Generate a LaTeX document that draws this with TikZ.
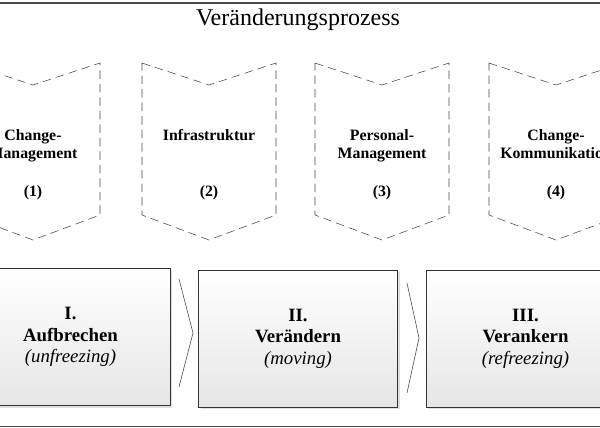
\documentclass[tikz,border=0pt]{standalone}
\usepackage{fontspec}
\setmainfont{Liberation Serif}
\usetikzlibrary{shadows}
\begin{document}
\begin{tikzpicture}[x=1pt,y=-1pt,
    phase/.style={draw=black!80, line width=0.6pt, top color=white, bottom color=black!10,
        minimum width=199pt, minimum height=137pt, align=center,
        font=\fontsize{18.8}{21.5}\selectfont,
        drop shadow={opacity=0.25, shadow xshift=2pt, shadow yshift=-2pt}},
    field/.style={draw=black!72, dash pattern=on 8.5pt off 5pt, line width=0.55pt},
    fieldtext/.style={align=center, anchor=north, font=\bfseries\fontsize{15.8}{18.5}\selectfont},
    fieldnum/.style={font=\bfseries\fontsize{15.8}{18}\selectfont},
    step line/.style={draw=black!70, line width=0.6pt},
    rule/.style={draw=black!70, line width=1.1pt}]
            \useasboundingbox (0,0) rectangle (600,428);
            \draw[rule] (0,3) -- (600,3);
            \draw[rule] (0,426.5) -- (600,426.5);
            \node[font=\fontsize{24}{28}\selectfont] at (298,20) (t1) {Veränderungsprozess};

            \draw[field] (-34,63) -- (33,85) -- (100,63) -- (100,215) -- (33,240) -- (-34,215) -- cycle;
            \draw[field] (142,63) -- (209,85) -- (276,63) -- (276,215) -- (209,240) -- (142,215) -- cycle;
            \draw[field] (315,63) -- (382,85) -- (449,63) -- (449,215) -- (382,240) -- (315,215) -- cycle;
            \draw[field] (489,63) -- (556,85) -- (623,63) -- (623,215) -- (556,240) -- (489,215) -- cycle;
            \node[fieldtext] at (33,126) (c1) {Change-\\Management};
            \node[fieldnum] at (33,193) (n1) {(1)};
            \node[fieldtext] at (209,126) (c2) {Infrastruktur};
            \node[fieldnum] at (209,193) (n2) {(2)};
            \node[fieldtext] at (382,126) (c3) {Personal-\\Management};
            \node[fieldnum] at (382,193) (n3) {(3)};
            \node[fieldtext] at (556,126) (c4) {Change-\\Kommunikation};
            \node[fieldnum] at (556,193) (n4) {(4)};

            \node[phase] at (70.5,337) (b1) {\textbf{I.}\\\textbf{Aufbrechen}\\\textit{(unfreezing)}};
            \node[phase] at (298,338.5) (b2) {\textbf{II.}\\\textbf{Verändern}\\\textit{(moving)}};
            \node[phase] at (525.5,338.5) (b3) {\textbf{III.}\\\textbf{Verankern}\\\textit{(refreezing)}};
            \draw[step line] (179,279) -- (193,333) -- (179,387);
            \draw[step line] (407,283) -- (419,338) -- (407,393);
\end{tikzpicture}
\end{document}
